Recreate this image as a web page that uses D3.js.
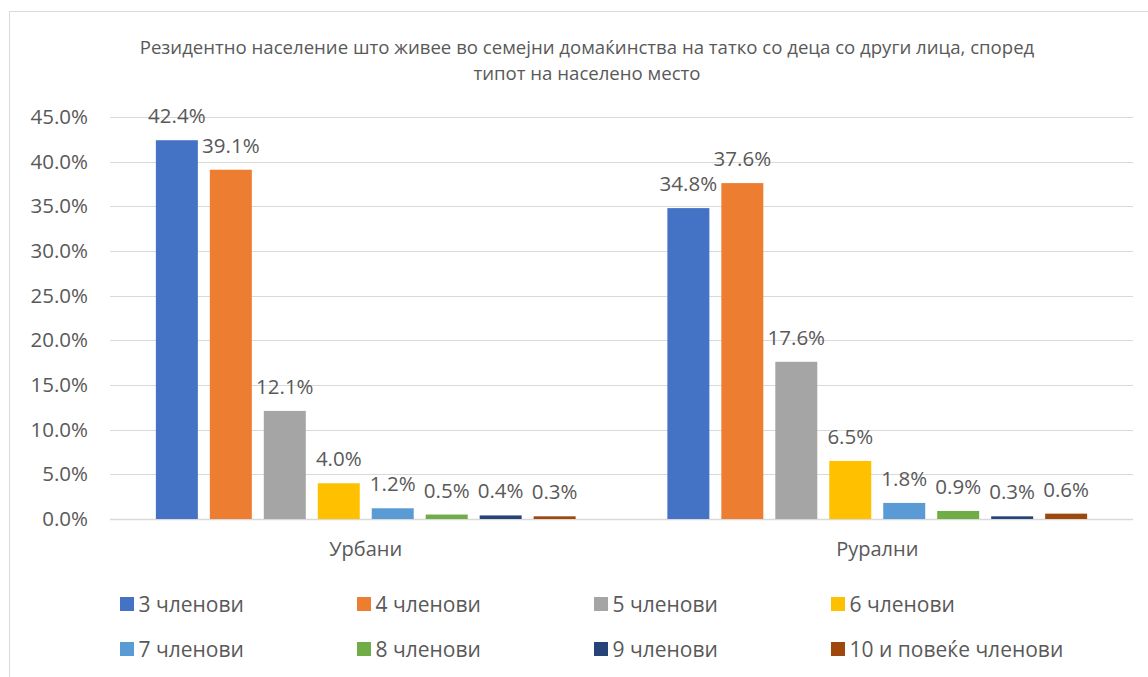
<!DOCTYPE html>
<html>
<head>
<meta charset="utf-8">
<script src="https://cdn.jsdelivr.net/npm/d3@7"></script>
<style>
  body { margin: 0; background: #fff; }
  #chart { width: 1148px; height: 677px; }
</style>
</head>
<body>
<div id="chart"></div>
<script>
const categories = ["Урбани", "Рурални"];
const series = ["3 членови", "4 членови", "5 членови", "6 членови", "7 членови", "8 членови", "9 членови", "10 и повеќе членови"];
const urbanValues = [42.4, 39.1, 12.1, 4.0, 1.2, 0.5, 0.4, 0.3];
const ruralValues = [34.8, 37.6, 17.6, 6.5, 1.8, 0.9, 0.3, 0.6];
const yTicks = [0, 5, 10, 15, 20, 25, 30, 35, 40, 45];
const colors = ["#4472C4", "#ED7D31", "#A5A5A5", "#FFC000", "#5B9BD5", "#70AD47", "#264478", "#9E480E"];
const titleLines = ["Резидентно население што живее во семејни домаќинства на татко со деца со други лица, според", "типот на населено место"];

const font = "'Open Sans', 'Noto Sans', sans-serif";
const textColor = "#595959";
const gridColor = "#D9D9D9";

const W = 1148, H = 677;
const plot = { left: 110, right: 1133, top: 117, bottom: 519 };

const svg = d3.select("#chart")
  .append("svg")
  .attr("width", W)
  .attr("height", H)
  .style("font-family", font);

// chart area border (Excel style)
svg.append("rect")
  .attr("x", 9.5).attr("y", 11.5)
  .attr("width", 1180).attr("height", 700)
  .attr("fill", "none")
  .attr("stroke", gridColor);

// title
svg.append("g")
  .selectAll("text")
  .data(titleLines)
  .join("text")
  .attr("x", 587)
  .attr("y", (d, i) => 54 + i * 26)
  .attr("text-anchor", "middle")
  .attr("font-size", "18.6px")
  .attr("fill", textColor)
  .text(d => d);

const rows = series.map((s, i) => ({ name: s, values: [urbanValues[i], ruralValues[i]] }));

/* scales */
const x0 = d3.scaleBand()
  .domain(categories)
  .range([plot.left, plot.right]);

const x1 = d3.scaleBand()
  .domain(series)
  .range([0, x0.bandwidth()])
  .paddingInner(0.222)
  .paddingOuter(0.85);

const y = d3.scaleLinear()
  .domain([0, 45])
  .range([plot.bottom, plot.top]);

// horizontal gridlines
svg.append("g")
  .selectAll("line")
  .data(yTicks)
  .join("line")
  .attr("x1", plot.left)
  .attr("x2", plot.right)
  .attr("y1", d => Math.round(y(d)) + 0.5)
  .attr("y2", d => Math.round(y(d)) + 0.5)
  .attr("stroke", gridColor)
  .attr("stroke-width", d => d === 0 ? 1.5 : 1);

// y axis labels
const yAxis = d3.axisLeft(y)
  .tickValues(yTicks)
  .tickFormat(d => d.toFixed(1) + "%")
  .tickSize(0)
  .tickPadding(22);

svg.append("g")
  .attr("transform", `translate(${plot.left},0)`)
  .call(yAxis)
  .call(g => g.select(".domain").remove())
  .selectAll(".tick text")
  .attr("font-family", font)
  .attr("font-size", "20.5px")
  .attr("fill", textColor);

// x axis category labels
const xAxis = d3.axisBottom(x0).tickSize(0).tickPadding(23);
svg.append("g")
  .attr("transform", `translate(0,${plot.bottom})`)
  .call(xAxis)
  .call(g => g.select(".domain").remove())
  .selectAll(".tick text")
  .attr("font-family", font)
  .attr("font-size", "20px")
  .attr("fill", textColor);

// bars
const groups = svg.append("g")
  .selectAll("g")
  .data(categories)
  .join("g")
  .attr("transform", d => `translate(${x0(d)},0)`);

groups.selectAll("rect")
  .data((c, ci) => rows.map((r, i) => ({ series: r.name, value: r.values[ci], i })))
  .join("rect")
  .attr("x", d => x1(d.series))
  .attr("y", d => y(d.value))
  .attr("width", x1.bandwidth())
  .attr("height", d => y(0) - y(d.value))
  .attr("fill", d => colors[d.i]);

// data labels
groups.selectAll("text")
  .data((c, ci) => rows.map((r, i) => ({ series: r.name, value: r.values[ci], i })))
  .join("text")
  .attr("x", d => x1(d.series) + x1.bandwidth() / 2)
  .attr("y", d => y(d.value) - 17)
  .attr("text-anchor", "middle")
  .attr("font-size", "20.5px")
  .attr("fill", textColor)
  .text(d => d.value.toFixed(1) + "%");

// legend
const legend = svg.append("g")
  .selectAll("g")
  .data(series)
  .join("g")
  .attr("transform", (d, i) => `translate(${120 + (i % 4) * 237},${597 + Math.floor(i / 4) * 45})`);

legend.append("rect")
  .attr("width", 14)
  .attr("height", 14)
  .attr("fill", (d, i) => colors[i]);

legend.append("text")
  .attr("x", 18.5)
  .attr("y", 14.5)
  .attr("font-size", "21px")
  .attr("fill", textColor)
  .text(d => d);
</script>
</body>
</html>
